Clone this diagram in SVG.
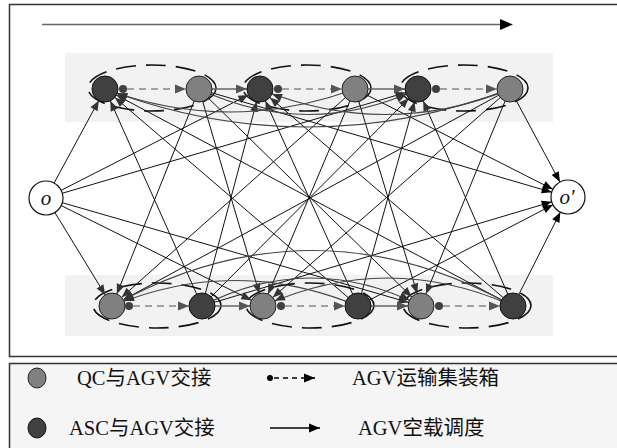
<svg xmlns="http://www.w3.org/2000/svg" width="617" height="448" viewBox="0 0 617 448">
<style>
.panel{fill:#f2f2f2;stroke:none}
.ell{fill:none;stroke:#111;stroke-width:1.6;stroke-dasharray:20,10}
.e{fill:none;stroke:#111;stroke-width:1;marker-end:url(#ah)}
.eo{fill:none;stroke:#111;stroke-width:1;marker-end:url(#ao)}
.c{fill:none;stroke:#444;stroke-width:1.2;marker-end:url(#ah)}
.g{fill:none;stroke:#666;stroke-width:1.5;marker-end:url(#ag)}
.d{fill:none;stroke:#888;stroke-width:1.5;stroke-dasharray:7,5;marker-end:url(#ag)}
.dk{fill:#404040;stroke:#111;stroke-width:1}
.lt{fill:#808080;stroke:#222;stroke-width:1}
.dot{fill:#404040}
.on{fill:#fff;stroke:#111;stroke-width:1.2}
.ot{font-family:"Liberation Serif",serif;font-style:italic;font-size:21px;fill:#111}
.lg{font-family:"Liberation Serif","Noto Sans CJK SC",serif;font-size:20.5px;fill:#111}
</style>
<defs>
<marker id="ah" markerUnits="userSpaceOnUse" markerWidth="10" markerHeight="8" refX="23" refY="4" orient="auto" overflow="visible"><path d="M0,0 L10,4 L0,8 z" fill="#333"/></marker>
<marker id="ao" markerUnits="userSpaceOnUse" markerWidth="10" markerHeight="8" refX="27" refY="4" orient="auto" overflow="visible"><path d="M0,0 L10,4 L0,8 z" fill="#000"/></marker>
<marker id="ag" markerUnits="userSpaceOnUse" markerWidth="11" markerHeight="9" refX="11" refY="4.5" orient="auto" overflow="visible"><path d="M0,0 L11,4.5 L0,9 z" fill="#555"/></marker>
<marker id="al" markerUnits="userSpaceOnUse" markerWidth="11" markerHeight="9" refX="11" refY="4.5" orient="auto" overflow="visible"><path d="M0,0 L11,4.5 L0,9 z" fill="#000"/></marker>
</defs>
<rect x="0" y="0" width="617" height="448" fill="#fff"/>
<rect x="9.5" y="4.5" width="620" height="352" fill="#fff" stroke="#333" stroke-width="1.5"/>
<rect x="9.5" y="363.5" width="620" height="100" fill="#f5f5f5" stroke="#333" stroke-width="1.5"/>
<line x1="42" y1="24.5" x2="500" y2="24.5" stroke="#666" stroke-width="1.5"/>
<polygon points="500,19 513,24.5 500,30" fill="#000"/>
<rect class="panel" x="65" y="53" width="488" height="69"/>
<rect class="panel" x="65" y="275" width="488" height="61"/>
<g id="pair-ellipses">
<ellipse class="ell" cx="152" cy="88" rx="64" ry="23"/>
<ellipse class="ell" cx="307" cy="88" rx="64" ry="23"/>
<ellipse class="ell" cx="464" cy="88" rx="64" ry="23"/>
<ellipse class="ell" cx="157" cy="305.5" rx="64" ry="22.5"/>
<ellipse class="ell" cx="310" cy="305.5" rx="64" ry="22.5"/>
<ellipse class="ell" cx="467" cy="305.5" rx="64" ry="22.5"/>
</g>
<g id="connectors">
<line class="e" x1="46" y1="198" x2="105" y2="89"/>
<line class="e" x1="46" y1="198" x2="260" y2="89"/>
<line class="e" x1="46" y1="198" x2="418" y2="89"/>
<line class="e" x1="46" y1="198" x2="112" y2="306"/>
<line class="e" x1="46" y1="198" x2="263" y2="306"/>
<line class="e" x1="46" y1="198" x2="421" y2="306"/>
<line class="eo" x1="199" y1="89" x2="568" y2="197"/>
<line class="eo" x1="355" y1="89" x2="568" y2="197"/>
<line class="eo" x1="510" y1="89" x2="568" y2="197"/>
<line class="eo" x1="202" y1="306" x2="568" y2="197"/>
<line class="eo" x1="358" y1="306" x2="568" y2="197"/>
<line class="eo" x1="513" y1="306" x2="568" y2="197"/>
<line class="e" x1="199" y1="89" x2="112" y2="306"/>
<line class="e" x1="199" y1="89" x2="263" y2="306"/>
<line class="e" x1="199" y1="89" x2="421" y2="306"/>
<line class="e" x1="355" y1="89" x2="112" y2="306"/>
<line class="e" x1="355" y1="89" x2="263" y2="306"/>
<line class="e" x1="355" y1="89" x2="421" y2="306"/>
<line class="e" x1="510" y1="89" x2="112" y2="306"/>
<line class="e" x1="510" y1="89" x2="263" y2="306"/>
<line class="e" x1="510" y1="89" x2="421" y2="306"/>
<line class="e" x1="202" y1="306" x2="105" y2="89"/>
<line class="e" x1="202" y1="306" x2="260" y2="89"/>
<line class="e" x1="202" y1="306" x2="418" y2="89"/>
<line class="e" x1="358" y1="306" x2="105" y2="89"/>
<line class="e" x1="358" y1="306" x2="260" y2="89"/>
<line class="e" x1="358" y1="306" x2="418" y2="89"/>
<line class="e" x1="513" y1="306" x2="105" y2="89"/>
<line class="e" x1="513" y1="306" x2="260" y2="89"/>
<line class="e" x1="513" y1="306" x2="418" y2="89"/>
<path class="c" d="M199,89 Q308,140 418,89"/>
<path class="c" d="M355,89 Q230,135 105,89"/>
<path class="c" d="M510,89 Q307,165 105,89"/>
<path class="c" d="M510,89 Q385,140 260,89"/>
<path class="c" d="M202,306 Q311,250 421,306"/>
<path class="c" d="M358,306 Q235,255 112,306"/>
<path class="c" d="M513,306 Q312,195 112,306"/>
<path class="c" d="M513,306 Q388,250 263,306"/>
<line class="g" x1="212" y1="89" x2="247" y2="89"/>
<line class="g" x1="368" y1="89" x2="405" y2="89"/>
<line class="g" x1="215" y1="306" x2="250" y2="306"/>
<line class="g" x1="371" y1="306" x2="408" y2="306"/>
<line class="d" x1="127" y1="89" x2="186" y2="89"/>
<line class="d" x1="282" y1="89" x2="342" y2="89"/>
<line class="d" x1="440" y1="89" x2="497" y2="89"/>
<line class="d" x1="133" y1="306" x2="189" y2="306"/>
<line class="d" x1="285" y1="306" x2="345" y2="306"/>
<line class="d" x1="443" y1="306" x2="500" y2="306"/>
</g>
<g id="node-o"><circle class="on" cx="46" cy="198" r="17"/><text class="ot" x="46" y="205" text-anchor="middle">o</text></g>
<g id="node-o-prime"><circle class="on" cx="568" cy="197" r="17"/><text class="ot" x="567" y="204" text-anchor="middle">o′</text></g>
<g id="T1"><circle class="dk" cx="105" cy="89" r="13"/><circle class="dot" cx="123" cy="89" r="4"/></g>
<g id="T2"><circle class="lt" cx="199" cy="89" r="13"/></g>
<g id="T3"><circle class="dk" cx="260" cy="89" r="13"/><circle class="dot" cx="278" cy="89" r="4"/></g>
<g id="T4"><circle class="lt" cx="355" cy="89" r="13"/></g>
<g id="T5"><circle class="dk" cx="418" cy="89" r="13"/><circle class="dot" cx="436" cy="89" r="4"/></g>
<g id="T6"><circle class="lt" cx="510" cy="89" r="13"/></g>
<g id="B1"><circle class="lt" cx="112" cy="306" r="13"/><circle class="dot" cx="129" cy="306" r="4"/></g>
<g id="B2"><circle class="dk" cx="202" cy="306" r="13"/></g>
<g id="B3"><circle class="lt" cx="263" cy="306" r="13"/><circle class="dot" cx="281" cy="306" r="4"/></g>
<g id="B4"><circle class="dk" cx="358" cy="306" r="13"/></g>
<g id="B5"><circle class="lt" cx="421" cy="306" r="13"/><circle class="dot" cx="439" cy="306" r="4"/></g>
<g id="B6"><circle class="dk" cx="513" cy="306" r="13"/></g>
<g id="legend">
<ellipse class="lt" cx="37" cy="378" rx="9" ry="10"/>
<text class="lg" x="77" y="385">QC与AGV交接</text>
<circle cx="270" cy="378" r="3" fill="#000"/>
<line x1="274" y1="378" x2="315" y2="378" stroke="#000" stroke-width="1.3" stroke-dasharray="5,4" marker-end="url(#al)"/>
<text class="lg" x="352" y="385">AGV运输集装箱</text>
<ellipse class="dk" cx="37" cy="428" rx="9" ry="10"/>
<text class="lg" x="69" y="435">ASC与AGV交接</text>
<line x1="270" y1="428" x2="320" y2="428" stroke="#000" stroke-width="1.3" marker-end="url(#al)"/>
<text class="lg" x="358" y="435">AGV空载调度</text>
</g>
</svg>
